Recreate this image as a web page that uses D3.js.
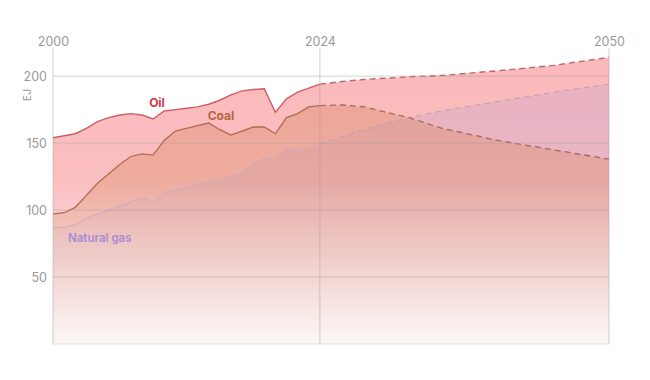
<!DOCTYPE html>
<html>
<head>
<meta charset="utf-8">
<script src="https://cdn.jsdelivr.net/npm/d3@7"></script>
<style>
  body { margin: 0; background: #fff; }
  svg { display: block; font-family: Inter, "Noto Sans", sans-serif; }
</style>
</head>
<body>
<div id="chart"></div>
<script>
// historical, yearly 2000-2024 (EJ)
var histYears = d3.range(2000, 2025);
var oilHist = [154, 155.5, 157, 161, 166, 169, 171, 172, 171, 168, 174, 175, 176, 177, 179, 182, 186, 189, 190, 190.5, 173, 183, 188, 191, 194];
var coalHist = [97, 98, 102, 111, 120, 127, 134, 140, 142, 141, 152, 159, 161, 163, 165, 160, 156, 159, 162, 162, 157, 169, 172, 177, 178];
var gasHist = [87, 87, 89, 94, 97, 100, 103, 106, 109, 106, 113, 115, 117, 120, 121, 122, 125, 128, 135, 139, 138, 146, 145, 146, 149];

// projection 2024-2050
var projYears = [2024, 2026, 2028, 2030, 2032, 2035, 2040, 2045, 2050];
var oilProj = [194, 196, 197.5, 198.5, 199.5, 200.5, 204, 208, 214];
var coalProj = [178, 178.5, 177, 173, 169, 161, 152, 145, 138];
var gasProj = [149, 155, 160, 165, 169, 174, 181, 188, 194];

var yTicks = [50, 100, 150, 200];
var xTicks = [2000, 2024, 2050];

var w = 650, h = 380;

var x = d3.scaleLinear().domain([2000, 2050]).range([53, 609]);
var y = d3.scaleLinear().domain([0, 221]).range([344, 48]);

var svg = d3.select("#chart").append("svg")
    .attr("width", w)
    .attr("height", h);

function zip(years, vals) {
    return years.map(function(yr, i) { return {year: yr, v: vals[i]}; });
}

// drawn in this order: oil, gas, coal on top
var series = [
    {name: "Oil", hist: oilHist, proj: oilProj, fill: "#f9b0b3", fillOp: 0.9, line: "#cf5d68", dash: "#b56a72", lineW: 1.4},
    {name: "Natural gas", hist: gasHist, proj: gasProj, fill: "#d5a8c4", fillOp: 0.5, line: "#d2a9c2", dash: "#bba0b4", lineW: 1},
    {name: "Coal", hist: coalHist, proj: coalProj, fill: "#dc8a68", fillOp: 0.45, line: "#b06a4e", dash: "#a4695c", lineW: 1.3}
];

var area = d3.area()
    .x(function(d) { return x(d.year); })
    .y0(y(0))
    .y1(function(d) { return y(d.v); });

var line = d3.line()
    .x(function(d) { return x(d.year); })
    .y(function(d) { return y(d.v); });

// fills
series.forEach(function(s) {
    var all = zip(histYears, s.hist).concat(zip(projYears, s.proj).slice(1));
    svg.append("path")
        .attr("d", area(all))
        .attr("fill", s.fill)
        .attr("fill-opacity", s.fillOp);
});

// fade to white at bottom
var defs = svg.append("defs");
var grad = defs.append("linearGradient")
    .attr("id", "fade")
    .attr("x1", 0).attr("y1", 0).attr("x2", 0).attr("y2", 1);
grad.append("stop").attr("offset", "0").attr("stop-color", "#fff").attr("stop-opacity", 0);
grad.append("stop").attr("offset", "0.45").attr("stop-color", "#fff").attr("stop-opacity", 0.1);
grad.append("stop").attr("offset", "1").attr("stop-color", "#fff").attr("stop-opacity", 0.92);

svg.append("rect")
    .attr("x", x(2000))
    .attr("y", y(221))
    .attr("width", x(2050) - x(2000))
    .attr("height", y(0) - y(221))
    .attr("fill", "url(#fade)");

// lines
series.forEach(function(s) {
    svg.append("path")
        .attr("d", line(zip(histYears, s.hist)))
        .attr("fill", "none")
        .attr("stroke", s.line)
        .attr("stroke-width", s.lineW);
    svg.append("path")
        .attr("d", line(zip(projYears, s.proj)))
        .attr("fill", "none")
        .attr("stroke", s.dash)
        .attr("stroke-width", s.lineW)
        .attr("stroke-dasharray", "6,4");
});

// grid
svg.selectAll(".hgrid")
    .data(yTicks)
    .enter().append("line")
    .attr("class", "hgrid")
    .attr("x1", x(2000)).attr("x2", x(2050))
    .attr("y1", function(d) { return y(d); })
    .attr("y2", function(d) { return y(d); })
    .attr("stroke", "#a89a9a")
    .attr("stroke-opacity", 0.45);

svg.append("line")
    .attr("x1", x(2000)).attr("x2", x(2050))
    .attr("y1", y(0)).attr("y2", y(0))
    .attr("stroke", "#dddddd");

svg.selectAll(".vgrid")
    .data(xTicks)
    .enter().append("line")
    .attr("class", "vgrid")
    .attr("x1", function(d) { return x(d); })
    .attr("x2", function(d) { return x(d); })
    .attr("y1", y(221)).attr("y2", y(0))
    .attr("stroke", "#a8a0a0")
    .attr("stroke-opacity", 0.5);

// axes
var yAxis = svg.append("g")
    .attr("transform", "translate(47,0)")
    .call(d3.axisLeft(y).tickValues(yTicks).tickSize(0).tickPadding(0));
yAxis.select(".domain").remove();
yAxis.selectAll("text")
    .attr("fill", "#999")
    .style("font-size", "12.5px")
    .style("font-family", "Inter, sans-serif");

var xAxis = svg.append("g")
    .attr("transform", "translate(0,46)")
    .call(d3.axisTop(x).tickValues(xTicks).tickFormat(d3.format("d")).tickSize(0).tickPadding(0));
xAxis.select(".domain").remove();
xAxis.selectAll("text")
    .attr("fill", "#999")
    .style("font-size", "12.5px")
    .style("font-family", "Inter, sans-serif");

svg.append("text")
    .attr("transform", "translate(31,95) rotate(-90)")
    .attr("text-anchor", "middle")
    .attr("fill", "#999")
    .style("font-size", "10.5px")
    .text("EJ");

// series labels
svg.append("text")
    .attr("x", 157).attr("y", 107)
    .attr("text-anchor", "middle")
    .attr("fill", "#d3344c")
    .style("font-size", "12px").style("font-weight", "bold")
    .text("Oil");

svg.append("text")
    .attr("x", 221).attr("y", 120)
    .attr("text-anchor", "middle")
    .attr("fill", "#b5663e")
    .style("font-size", "12px").style("font-weight", "bold")
    .text("Coal");

svg.append("text")
    .attr("x", 68).attr("y", 242)
    .attr("fill", "#a98ad6")
    .style("font-size", "11.5px").style("font-weight", "600")
    .text("Natural gas");
</script>
</body>
</html>
